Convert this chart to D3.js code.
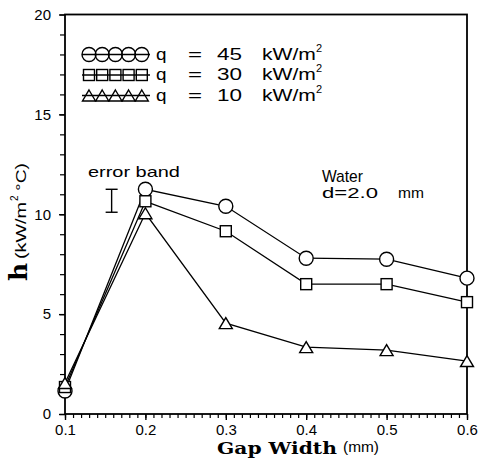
<!DOCTYPE html>
<html>
<head>
<meta charset="utf-8">
<script src="https://cdn.jsdelivr.net/npm/d3@7"></script>
<style>
  body { margin: 0; background: #fff; }
  text { font-family: "Liberation Sans", Arial, sans-serif; fill: #000; }
</style>
</head>
<body>
<div id="chart"></div>
<script>
// Data
const gaps = [0.1, 0.2, 0.3, 0.4, 0.5, 0.6];
const q45 = [1.15, 11.25, 10.4, 7.8, 7.75, 6.8];
const q30 = [1.35, 10.65, 9.15, 6.5, 6.5, 5.6];
const q10 = [1.55, 10.05, 4.55, 3.35, 3.2, 2.65];
const seriesNames = ['45', '30', '10'];
const yTicks = [0, 5, 10, 15, 20];
const xTicks = [0.1, 0.2, 0.3, 0.4, 0.5, 0.6];
const errBand = { x: 0.158, lo: 10.1, hi: 11.25 };

const width = 479, height = 458;
const margin = { top: 14.5, right: 12, bottom: 44, left: 65 };

const svg = d3.select('#chart').append('svg')
    .attr('width', width)
    .attr('height', height);

const x = d3.scaleLinear().domain([0.1, 0.6]).range([margin.left, width - margin.right]);
const y = d3.scaleLinear().domain([0, 20]).range([height - margin.bottom, margin.top]);

// Text stretched horizontally to a target width (the original plot font is wide)
function wideText(parent, tx, ty, str, size, target, opts = {}) {
    const g = parent.append('g').attr('transform', `translate(${tx},${ty})`);
    const t = g.append('text').style('font-size', size + 'px').text(str);
    if (opts.family) t.style('font-family', opts.family);
    if (opts.weight) t.style('font-weight', opts.weight);
    const w = t.node().getComputedTextLength();
    if (w > 0) t.attr('transform', `scale(${target / w},1)`);
    return t;
}

// Minor ticks
svg.append('g')
    .attr('transform', `translate(0,${y(0)})`)
    .call(d3.axisBottom(x).tickValues(d3.range(0.1, 0.6001, 0.01)).tickSize(4).tickFormat(''))
    .call(g => g.select('.domain').remove())
    .selectAll('line').attr('stroke-width', 1.2);

svg.append('g')
    .attr('transform', `translate(${x(0.1)},0)`)
    .call(d3.axisLeft(y).tickValues(d3.range(0, 20.01, 1)).tickSize(5).tickFormat(''))
    .call(g => g.select('.domain').remove())
    .selectAll('line').attr('stroke-width', 1.2);

// Major axes
const xAxis = svg.append('g')
    .attr('transform', `translate(0,${y(0)})`)
    .call(d3.axisBottom(x).tickValues(xTicks).tickSize(6).tickPadding(4).tickFormat(d3.format('.1f')));
xAxis.select('.domain').remove();
xAxis.selectAll('line').attr('stroke-width', 1.4);
xAxis.selectAll('text').style('font-size', '15px').style('font-family', '"Liberation Sans", Arial, sans-serif');

const yAxis = svg.append('g')
    .attr('transform', `translate(${x(0.1)},0)`)
    .call(d3.axisLeft(y).tickValues(yTicks).tickSize(6).tickPadding(8));
yAxis.select('.domain').remove();
yAxis.selectAll('line').attr('stroke-width', 1.4);
yAxis.selectAll('text').style('font-size', '15px').style('font-family', '"Liberation Sans", Arial, sans-serif');

// Frame
svg.append('rect')
    .attr('x', x(0.1))
    .attr('y', y(20))
    .attr('width', x(0.6) - x(0.1))
    .attr('height', y(0) - y(20))
    .attr('fill', 'none')
    .attr('stroke', '#000')
    .attr('stroke-width', 1.8);

// Marker shapes
const triPath = 'M0,-5.5L6.5,5.5L-6.5,5.5Z';
function drawMarker(g, kind, cx, cy, fill) {
    if (kind === 'circle') {
        g.append('circle').attr('cx', cx).attr('cy', cy).attr('r', 7)
            .attr('fill', fill).attr('stroke', '#000').attr('stroke-width', 1.4);
    } else if (kind === 'square') {
        g.append('rect').attr('x', cx - 5.5).attr('y', cy - 5.5).attr('width', 11).attr('height', 11)
            .attr('fill', fill).attr('stroke', '#000').attr('stroke-width', 1.4);
    } else {
        g.append('path').attr('d', triPath).attr('transform', `translate(${cx},${cy})`)
            .attr('fill', fill).attr('stroke', '#000').attr('stroke-width', 1.4);
    }
}

const series = [
    { values: q45, kind: 'circle' },
    { values: q30, kind: 'square' },
    { values: q10, kind: 'triangle' }
];

const line = d3.line().x(d => x(d[0])).y(d => y(d[1]));

series.forEach(s => {
    svg.append('path')
        .datum(gaps.map((g, i) => [g, s.values[i]]))
        .attr('d', line)
        .attr('fill', 'none')
        .attr('stroke', '#000')
        .attr('stroke-width', 1.3);
});
series.forEach(s => {
    const g = svg.append('g');
    gaps.forEach((gp, i) => drawMarker(g, s.kind, x(gp), y(s.values[i]), '#fff'));
});

// Legend
const legendY = [54.5, 75, 95.5];
series.forEach((s, i) => {
    const g = svg.append('g');
    const cy = legendY[i];
    g.append('line').attr('x1', 82).attr('x2', 150).attr('y1', cy).attr('y2', cy)
        .attr('stroke', '#000').attr('stroke-width', 1.3);
    for (let k = 0; k < 5; k++) drawMarker(g, s.kind, 89 + k * 13.2, cy, 'none');
    const base = cy + 5;
    wideText(g, 156, base, 'q', 16, 10.5);
    wideText(g, 188, base, '=', 16, 14);
    wideText(g, 217, base, seriesNames[i], 16, 25);
    wideText(g, 262, base, 'kW/m', 16, 54);
    g.append('text').attr('x', 316).attr('y', base - 8).style('font-size', '11px').text('2');
});

// Error band indicator
wideText(svg, 88, 177, 'error band', 15, 92);
const eb = svg.append('g').attr('stroke', '#000').attr('stroke-width', 1.4);
eb.append('line').attr('x1', x(errBand.x)).attr('x2', x(errBand.x)).attr('y1', y(errBand.hi)).attr('y2', y(errBand.lo));
eb.append('line').attr('x1', x(errBand.x) - 6).attr('x2', x(errBand.x) + 6).attr('y1', y(errBand.hi)).attr('y2', y(errBand.hi));
eb.append('line').attr('x1', x(errBand.x) - 6).attr('x2', x(errBand.x) + 6).attr('y1', y(errBand.lo)).attr('y2', y(errBand.lo));

// Water annotation
wideText(svg, 322, 182, 'Water', 16, 41);
wideText(svg, 322, 198, 'd=2.0', 15, 56);
wideText(svg, 398, 198, 'mm', 15, 26);

// Y axis label
const yl = svg.append('g').attr('transform', 'translate(27,0) rotate(-90)');
yl.append('text').attr('x', -281).attr('y', 0)
    .style('font-family', '"DejaVu Serif", serif').style('font-weight', 'bold').style('font-size', '25px')
    .text('h');
wideText(yl, -259, -1, '(kW/m', 15, 57);
yl.append('text').attr('x', -201).attr('y', -9).style('font-size', '10px').text('2');
wideText(yl, -191, -1, '°C)', 15, 28);

// X axis label
wideText(svg, 217, 454, 'Gap Width', 17, 120, { family: '"DejaVu Serif", serif', weight: 'bold' });
wideText(svg, 343, 452, '(mm)', 14, 36);
</script>
</body>
</html>
